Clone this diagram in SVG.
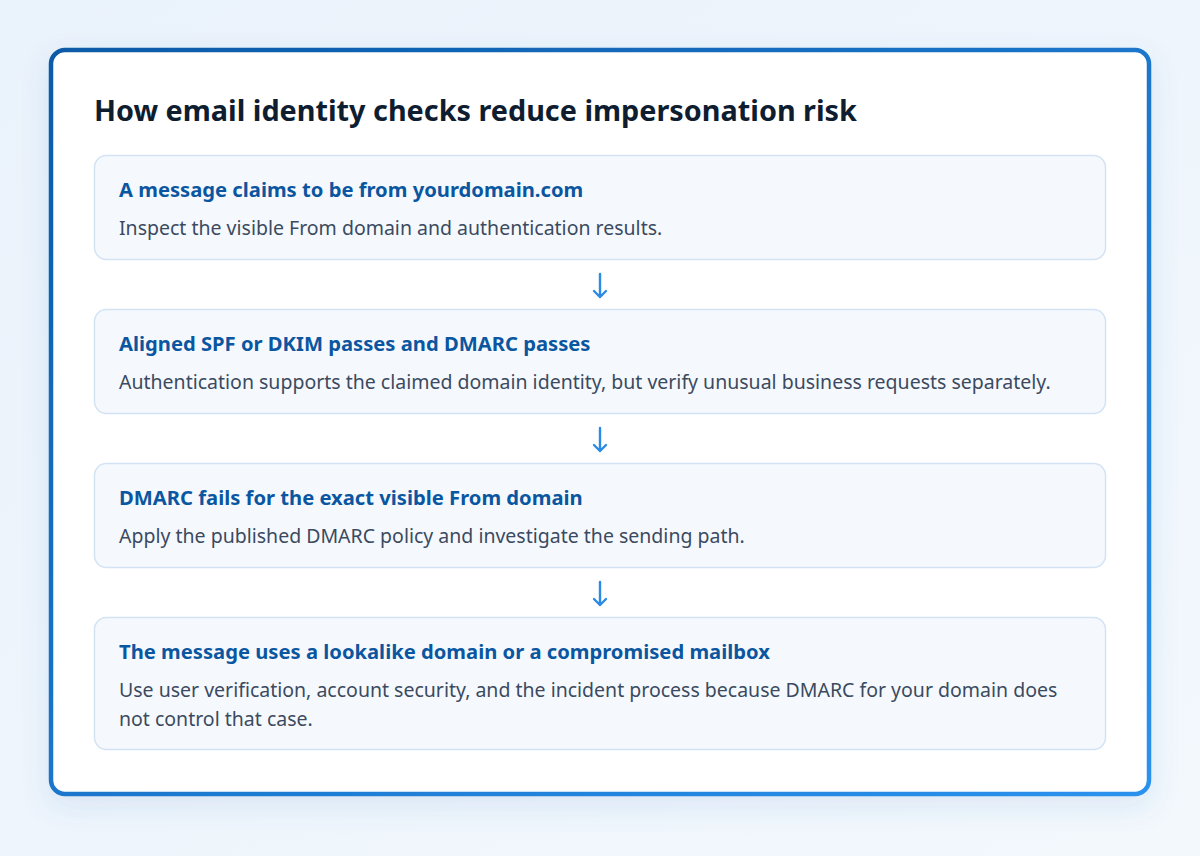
<svg xmlns="http://www.w3.org/2000/svg" width="1200" height="856" viewBox="0 0 1200 856">
<defs>
<linearGradient id="bg" x1="0" y1="0" x2="1" y2="1">
<stop offset="0" stop-color="#eaf2fb"/>
<stop offset="1" stop-color="#f3f8fd"/>
</linearGradient>
<linearGradient id="frame" x1="0" y1="0" x2="1" y2="1">
<stop offset="0" stop-color="#0b5aa8"/>
<stop offset="1" stop-color="#2b92ee"/>
</linearGradient>
<filter id="shadow" x="-10%" y="-10%" width="120%" height="125%">
<feDropShadow dx="0" dy="10" stdDeviation="14" flood-color="#2a6fc0" flood-opacity="0.12"/>
</filter>
</defs>
<style>
.title{font-family:"Noto Sans","Liberation Sans",sans-serif;font-weight:700;font-size:28.8px;fill:#0f1d30}
.box{fill:#f5f9fe;stroke:#d3e3f4;stroke-width:1.5}
.h{font-family:"Noto Sans","Liberation Sans",sans-serif;font-weight:700;font-size:20.2px;fill:#0b56a0}
.d{font-family:"Noto Sans","Liberation Sans",sans-serif;font-size:19.5px;fill:#3b4a5e}
.conn{fill:none;stroke:#2a8ae6;stroke-width:2.4;stroke-linecap:round;stroke-linejoin:round}
</style>
<rect width="1200" height="856" fill="url(#bg)"/>
<rect x="51" y="50" width="1098" height="744" rx="14" fill="#ffffff" stroke="url(#frame)" stroke-width="4.5" filter="url(#shadow)"/>
<text class="title" x="94" y="121">How email identity checks reduce impersonation risk</text>
<g id="node1">
<rect class="box" x="94.5" y="155.5" width="1011" height="104" rx="12"/>
<text class="h" x="119" y="197">A message claims to be from yourdomain.com</text>
<text class="d" x="119" y="234.5">Inspect the visible From domain and authentication results.</text>
</g>
<g id="node2">
<rect class="box" x="94.5" y="309.5" width="1011" height="104" rx="12"/>
<text class="h" x="119" y="351">Aligned SPF or DKIM passes and DMARC passes</text>
<text class="d" x="119" y="388.5">Authentication supports the claimed domain identity, but verify unusual business requests separately.</text>
</g>
<g id="node3">
<rect class="box" x="94.5" y="463.5" width="1011" height="104" rx="12"/>
<text class="h" x="119" y="505">DMARC fails for the exact visible From domain</text>
<text class="d" x="119" y="542.5">Apply the published DMARC policy and investigate the sending path.</text>
</g>
<g id="node4">
<rect class="box" x="94.5" y="617.5" width="1011" height="132" rx="12"/>
<text class="h" x="119" y="659">The message uses a lookalike domain or a compromised mailbox</text>
<text class="d" x="119" y="697">Use user verification, account security, and the incident process because DMARC for your domain does</text>
<text class="d" x="119" y="726">not control that case.</text>
</g>
<g id="connectors">
<path class="conn" d="M600 274V297M594 291L600 297L606 291"/>
<path class="conn" d="M600 428V451M594 445L600 451L606 445"/>
<path class="conn" d="M600 582V605M594 599L600 605L606 599"/>
</g>
</svg>
